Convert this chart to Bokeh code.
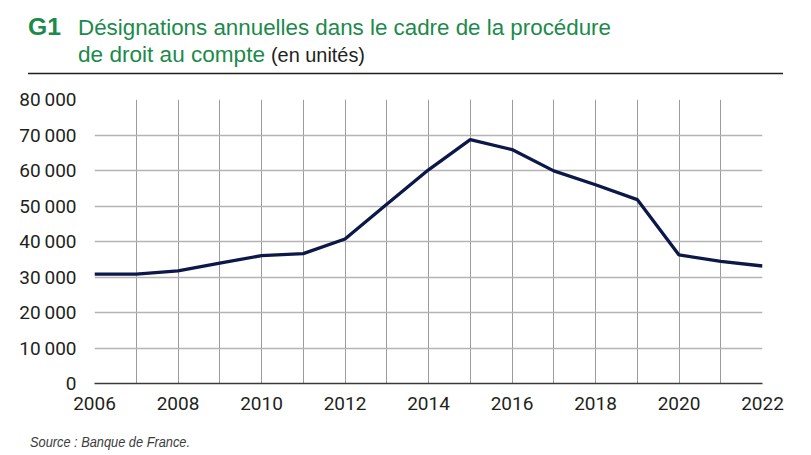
from bokeh.plotting import figure
from bokeh.models import FixedTicker, Range1d, Div
from bokeh.layouts import column
from bokeh.embed import file_html
from bokeh.resources import INLINE

years = list(range(2006, 2023))
designations = [30800, 30800, 31700, 33900, 36000, 36600, 40700, 50500, 60200,
                68700, 65900, 59900, 56000, 51800, 36200, 34400, 33100]
y_ticks = [0, 10000, 20000, 30000, 40000, 50000, 60000, 70000, 80000]
y_tick_labels = ["0", "10\u2009000", "20\u2009000", "30\u2009000", "40\u2009000",
                 "50\u2009000", "60\u2009000", "70\u2009000", "80\u2009000"]
x_ticks = [2006, 2008, 2010, 2012, 2014, 2016, 2018, 2020, 2022]

title_code = "G1"
title_line1 = "Désignations annuelles dans le cadre de la procédure"
title_line2 = "de droit au compte"
title_unit = "(en unités)"
source_text = "Source : Banque de France."

FONT = "Roboto"
GREEN = "#1b8a4b"
INK = "#231f20"

W = 795

title_html = f"""
<svg xmlns="http://www.w3.org/2000/svg" width="{W}" height="80" style="display:block">
  <text x="28" y="34.5" font-family="Roboto" font-weight="bold" font-size="24" fill="{GREEN}"
        textLength="33" lengthAdjust="spacingAndGlyphs">{title_code}</text>
  <text x="78" y="34.5" font-family="Roboto" font-size="22.5" fill="{GREEN}"
        textLength="533" lengthAdjust="spacingAndGlyphs">{title_line1}</text>
  <text x="78" y="62" font-family="Roboto" font-size="22.5" fill="{GREEN}"
        textLength="187" lengthAdjust="spacingAndGlyphs">{title_line2}</text>
  <text x="271" y="62" font-family="Roboto" font-size="20" fill="{INK}"
        textLength="94" lengthAdjust="spacingAndGlyphs">{title_unit}</text>
  <line x1="28" y1="73.5" x2="783" y2="73.5" stroke="{INK}" stroke-width="1.6"/>
</svg>
"""
title_div = Div(text=title_html, width=W, height=80, margin=(0, 0, 0, 0))

p = figure(width=W, height=335, output_backend="svg", toolbar_location=None,
           x_range=Range1d(2006, 2022), y_range=Range1d(0, 80000),
           min_border_left=94, min_border_right=33, min_border_top=19,
           min_border_bottom=32, margin=(0, 0, 0, 0))
p.outline_line_color = None
p.background_fill_color = "white"
p.border_fill_color = "white"

p.line(years, designations, line_color="#0b1848", line_width=3.3)

p.xaxis.ticker = FixedTicker(ticks=x_ticks)
p.yaxis.ticker = FixedTicker(ticks=y_ticks)
p.yaxis.major_label_overrides = {t: l for t, l in zip(y_ticks, y_tick_labels)}
for ax in (p.xaxis[0], p.yaxis[0]):
    ax.major_tick_line_color = None
    ax.minor_tick_line_color = None
    ax.major_label_text_font = FONT
    ax.major_label_text_font_size = "19px"
    ax.major_label_text_color = INK
p.yaxis.axis_line_color = None
p.yaxis.major_label_standoff = 12
p.xaxis.axis_line_color = "#3a3a3a"
p.xaxis.axis_line_width = 1.5
p.xaxis.major_label_standoff = 7

p.xgrid.ticker = FixedTicker(ticks=years[1:-1])
p.ygrid.ticker = FixedTicker(ticks=y_ticks[1:-1])
p.xgrid.grid_line_color = "#9c9c9c"
p.ygrid.grid_line_color = "#b4b4b4"
p.xgrid.grid_line_width = 1
p.ygrid.grid_line_width = 1.3

source_html = f"""
<svg xmlns="http://www.w3.org/2000/svg" width="{W}" height="37" style="display:block">
  <text x="30" y="32" font-family="Roboto" font-style="italic" font-size="14" fill="#3c3c3c"
        textLength="160" lengthAdjust="spacingAndGlyphs">{source_text}</text>
</svg>
"""
source_div = Div(text=source_html, width=W, height=37, margin=(0, 0, 0, 0))

layout = column(title_div, p, source_div, spacing=0)
open("out.html", "w").write(file_html(layout, INLINE))
